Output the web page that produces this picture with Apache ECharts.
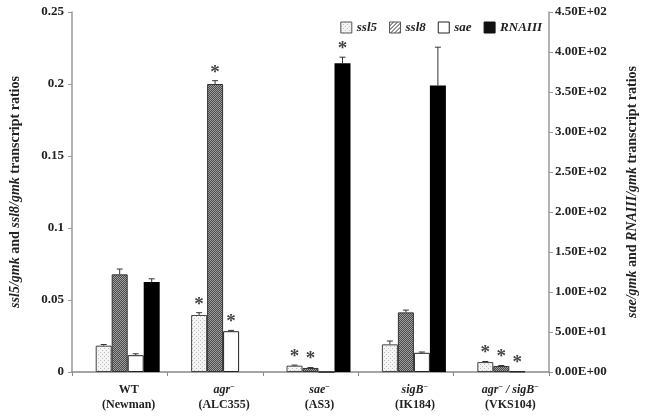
<!DOCTYPE html>
<html>
<head>
<meta charset="utf-8">
<script src="https://cdn.jsdelivr.net/npm/echarts@6/dist/echarts.min.js"></script>
<style>html,body{margin:0;padding:0;background:#fff}#c{width:647px;height:416px}</style>
</head>
<body>
<div id="c"></div>
<script>
// ---- data ----
var categories = ['WT', 'agr-', 'sae-', 'sigB-', 'agr-/sigB-'];
var xLabels = [
  '{b|WT}\n{b|(Newman)}',
  '{i|agr}{sup|\u2212}\n{b|(ALC355)}',
  '{i|sae}{sup|\u2212}\n{b|(AS3)}',
  '{i|sigB}{sup|\u2212}\n{b|(IK184)}',
  '{i|agr}{sup|\u2212}{i| / sigB}{sup|\u2212}\n{b|(VKS104)}'
];
var ssl5 = [0.0183, 0.0396, 0.0044, 0.0192, 0.0069];
var ssl5Err = [0.0008, 0.0016, 0.0004, 0.0023, 0.0004];
var ssl5Star = [0, 1, 1, 0, 1];
var ssl8 = [0.0678, 0.2000, 0.0028, 0.0414, 0.0042];
var ssl8Err = [0.0037, 0.0023, 0.0003, 0.0016, 0.0003];
var ssl8Star = [0, 1, 1, 0, 1];
var sae = [21, 51, 0, 24, 0.6];
var saeErr = [1.8, 1, 0, 1, 0];
var saeStar = [0, 1, 0, 0, 1];
var rnaiii = [112.5, 0, 386, 358, 0];
var rnaiiiErr = [4, 0, 7.5, 48, 0];
var rnaiiiStar = [0, 0, 1, 0, 0];
var leftTicks = { min: 0, max: 0.25, interval: 0.05 };
var rightTicks = { min: 0, max: 450, interval: 50 };

// ---- patterns ----
function makePattern(w, h, draw) {
  var c = document.createElement('canvas'); c.width = w; c.height = h;
  var g = c.getContext('2d'); draw(g); return { image: c, repeat: 'repeat' };
}
var dotPat = makePattern(4, 4, function (g) {
  g.fillStyle = '#f4f4f4'; g.fillRect(0, 0, 4, 4);
  g.fillStyle = '#bdbdbd'; g.fillRect(0, 0, 1, 1); g.fillRect(2, 2, 1, 1);
});
var crossPat = makePattern(2, 2, function (g) {
  g.fillStyle = '#4a4a4a'; g.fillRect(0, 0, 2, 2);
  g.fillStyle = '#a0a0a0'; g.fillRect(0, 0, 1, 1); g.fillRect(1, 1, 1, 1);
});
var hatchPat = makePattern(4, 4, function (g) {
  g.fillStyle = '#ffffff'; g.fillRect(0, 0, 4, 4);
  g.fillStyle = '#333'; g.fillRect(3, 0, 1, 1); g.fillRect(2, 1, 1, 1); g.fillRect(1, 2, 1, 1); g.fillRect(0, 3, 1, 1);
});

var BW = 16, NSLOT = 5;
function slotOffset(k) { return -BW * NSLOT / 2 + k * BW + BW / 2; }

function errSeries(vals, errs, stars, slot, axisIdx) {
  var data = vals.map(function (v, i) { return [i, v, errs[i], stars[i]]; });
  return {
    type: 'custom', yAxisIndex: axisIdx, silent: true, z: 5,
    encode: { x: 0, y: 1 },
    data: data,
    renderItem: function (params, api) {
      var ci = api.value(0), v = api.value(1), e = api.value(2), s = api.value(3);
      var x = api.coord([ci, 0])[0] + slotOffset(slot);
      var yBar = api.coord([ci, v])[1];
      var yTop = api.coord([ci, v + e])[1];
      var ch = [];
      if (e > 0) {
        ch.push({ type: 'line', shape: { x1: x, y1: yBar, x2: x, y2: yTop }, style: { stroke: '#333', lineWidth: 1 } });
        ch.push({ type: 'line', shape: { x1: x - 3, y1: yTop, x2: x + 3, y2: yTop }, style: { stroke: '#333', lineWidth: 1 } });
      }
      if (s) {
        ch.push({ type: 'text', x: x, y: yTop - 8, style: { text: '*', fill: '#444', font: 'bold 19px "Liberation Serif"', align: 'center', verticalAlign: 'middle' } });
      }
      return { type: 'group', children: ch };
    }
  };
}

function sciFmt(v) {
  if (v === 0) return '0.00E+00';
  var e = Math.floor(Math.log10(v) + 1e-9);
  var m = v / Math.pow(10, e);
  var es = String(Math.abs(e)); if (es.length < 2) es = '0' + es;
  return m.toFixed(2) + 'E' + (e >= 0 ? '+' : '-') + es;
}

var font = 'Liberation Serif';
var chart = echarts.init(document.getElementById('c'), null, { renderer: 'canvas' });
var barBase = { type: 'bar', barWidth: BW, barGap: '0%' };
chart.setOption({
  animation: false,
  backgroundColor: '#fff',
  textStyle: { fontFamily: font },
  legend: {
    top: 16, right: 100, itemWidth: 11, itemHeight: 11, itemGap: 12, icon: 'rect',
    textStyle: { fontFamily: font, fontStyle: 'italic', fontWeight: 'bold', fontSize: 13, color: '#222' },
    data: [
      { name: 'ssl5', icon: 'rect', itemStyle: { color: dotPat, borderColor: '#555', borderWidth: 1 } },
      { name: 'ssl8', icon: 'rect', itemStyle: { color: hatchPat, borderColor: '#555', borderWidth: 1 } },
      { name: 'sae', icon: 'rect', itemStyle: { color: '#fff', borderColor: '#222', borderWidth: 1 } },
      { name: 'RNAIII', icon: 'rect', itemStyle: { color: '#111', borderColor: '#111', borderWidth: 1 } }
    ]
  },
  grid: { left: 69, right: 96, top: 12, bottom: 44 },
  xAxis: {
    type: 'category', data: categories,
    axisLine: { lineStyle: { color: '#888', width: 1.5 } },
    axisTick: { show: true, length: 4, lineStyle: { color: '#888' } },
    axisLabel: {
      interval: 0, margin: 10, color: '#222', padding: [0, 0, 0, 18], lineHeight: 15,
      formatter: function (v, i) { return xLabels[i]; },
      rich: {
        b: { fontFamily: font, fontWeight: 'bold', fontSize: 12, color: '#222', lineHeight: 15 },
        i: { fontFamily: font, fontWeight: 'bold', fontStyle: 'italic', fontSize: 12, color: '#222', lineHeight: 15 },
        sup: { fontFamily: font, fontWeight: 'bold', fontSize: 8, color: '#222', padding: [0, 0, 6, 0], lineHeight: 15 }
      }
    }
  },
  yAxis: [
    {
      type: 'value', min: leftTicks.min, max: leftTicks.max, interval: leftTicks.interval,
      splitLine: { show: false },
      axisLine: { show: true, lineStyle: { color: '#999', width: 1.5 } },
      axisTick: { show: true, length: 4, lineStyle: { color: '#999' } },
      axisLabel: { fontFamily: font, fontWeight: 'bold', fontSize: 13, color: '#222', margin: 8 },
      name: '{i|ssl5/gmk}{b| and }{i|ssl8/gmk}{b| transcript ratios}',
      nameLocation: 'middle', nameRotate: 90, nameGap: 50,
      nameTextStyle: {
        rich: {
          i: { fontFamily: font, fontWeight: 'bold', fontStyle: 'italic', fontSize: 14, color: '#222' },
          b: { fontFamily: font, fontWeight: 'bold', fontSize: 14, color: '#222' }
        }
      }
    },
    {
      type: 'value', min: rightTicks.min, max: rightTicks.max, interval: rightTicks.interval,
      position: 'right', splitLine: { show: false },
      axisLine: { show: true, lineStyle: { color: '#999', width: 1.5 } },
      axisTick: { show: true, length: 4, lineStyle: { color: '#999' } },
      axisLabel: { fontFamily: font, fontWeight: 'bold', fontSize: 13, color: '#222', margin: 6, formatter: sciFmt },
      name: '{i|sae/gmk}{b| and }{i|RNAIII/gmk}{b| transcript ratios}',
      nameLocation: 'middle', nameRotate: 90, nameGap: 76,
      nameTextStyle: {
        rich: {
          i: { fontFamily: font, fontWeight: 'bold', fontStyle: 'italic', fontSize: 14, color: '#222' },
          b: { fontFamily: font, fontWeight: 'bold', fontSize: 14, color: '#222' }
        }
      }
    }
  ],
  series: [
    Object.assign({}, barBase, { name: '_pad', yAxisIndex: 0, data: categories.map(function () { return '-'; }) }),
    Object.assign({}, barBase, { name: 'ssl5', yAxisIndex: 0, data: ssl5, itemStyle: { color: dotPat, borderColor: '#444', borderWidth: 1 } }),
    Object.assign({}, barBase, { name: 'ssl8', yAxisIndex: 0, data: ssl8, itemStyle: { color: crossPat, borderColor: '#333', borderWidth: 1 } }),
    Object.assign({}, barBase, { name: 'sae', yAxisIndex: 1, data: sae, itemStyle: { color: '#fff', borderColor: '#222', borderWidth: 1 } }),
    Object.assign({}, barBase, { name: 'RNAIII', yAxisIndex: 1, data: rnaiii, itemStyle: { color: '#000', borderColor: '#000', borderWidth: 0 } }),
    errSeries(ssl5, ssl5Err, ssl5Star, 1, 0),
    errSeries(ssl8, ssl8Err, ssl8Star, 2, 0),
    errSeries(sae, saeErr, saeStar, 3, 1),
    errSeries(rnaiii, rnaiiiErr, rnaiiiStar, 4, 1)
  ]
});
</script>
</body>
</html>
